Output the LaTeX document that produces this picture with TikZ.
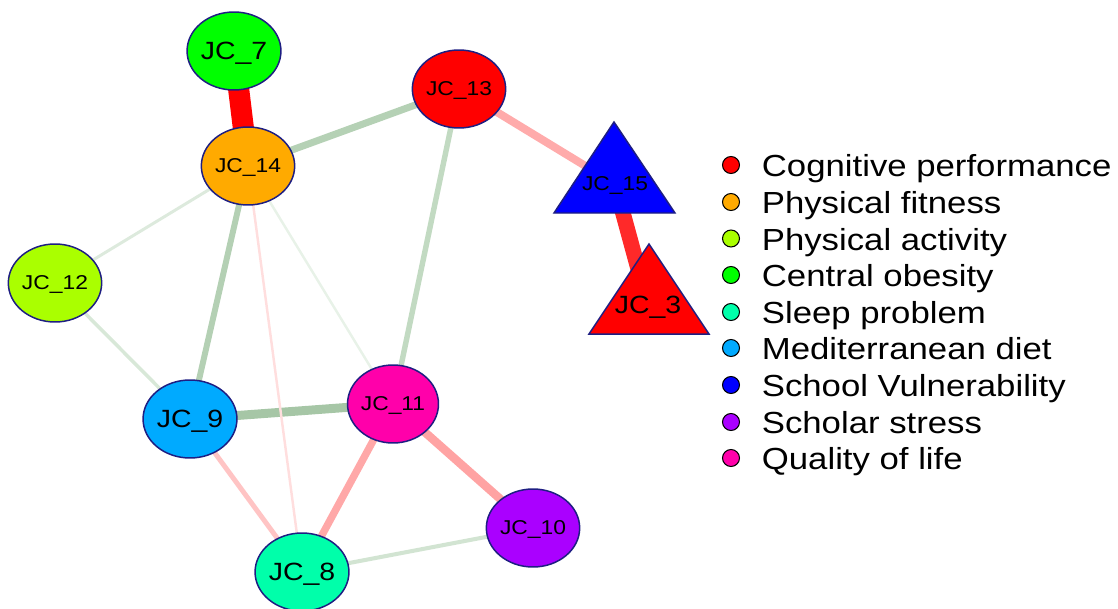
\documentclass[tikz,border=0pt]{standalone}
\usepackage{fontspec}
\newfontfamily\nodefont[FakeStretch=1.14]{Liberation Sans}
\usetikzlibrary{shapes.geometric}
\pgfdeclarelayer{edges}
\pgfsetlayers{edges,main}

% group colours
\definecolor{cogn}{HTML}{FF0000}
\definecolor{fit}{HTML}{FFAA00}
\definecolor{pact}{HTML}{AAFF00}
\definecolor{obes}{HTML}{00FF00}
\definecolor{sleep}{HTML}{00FFAA}
\definecolor{medi}{HTML}{00AAFF}
\definecolor{vuln}{HTML}{0000FF}
\definecolor{stress}{HTML}{AA00FF}
\definecolor{qol}{HTML}{FF00AA}
\definecolor{rim}{RGB}{30,30,130}

\tikzset{
  jc/.style={ellipse, draw=rim, line width=0.85pt, minimum width=1.78cm,
    minimum height=1.56cm, inner sep=0pt, text depth=0pt,
    font=\nodefont\fontsize{11.4}{12}\selectfont},
  big/.style={font=\nodefont\fontsize{14.2}{15}\selectfont},
  tri/.style={draw=rim, line width=0.85pt, line join=miter},
  trilab/.style={inner sep=0pt, text depth=0pt},
  edge/.style n args={2}{draw={#1}, line width=#2},
  dot/.style={circle, draw=black, line width=0.6pt, minimum size=0.34cm, inner sep=0pt},
  leg/.style={anchor=base west, inner sep=0pt,
    font=\nodefont\fontsize{17.35}{19}\selectfont}
}

\begin{document}
\begin{tikzpicture}[x=0.02cm, y=-0.02cm]
\useasboundingbox (0,0) rectangle (1118,608);

% round nodes
\node[jc, big, fill=obes] (JC7)  at (234,51)  {JC\_7};
\node[jc, fill=cogn]      (JC13) at (459,89)  {JC\_13};
\node[jc, fill=fit]       (JC14) at (248,166) {JC\_14};
\node[jc, fill=pact]      (JC12) at (55,283)  {JC\_12};
\node[jc, big, fill=medi] (JC9)  at (190,419) {JC\_9};
\node[jc, fill=qol]       (JC11) at (393,404) {JC\_11};
\node[jc, fill=stress]    (JC10) at (533,528) {JC\_10};
\node[jc, big, fill=sleep] (JC8) at (302,572) {JC\_8};

% triangular nodes
\path[tri, fill=vuln] (614,122) -- (675,213) -- (554,213) -- cycle;
\node[trilab, font=\nodefont\fontsize{11.4}{12}\selectfont] (JC15) at (615,184) {JC\_15};
\path[tri, fill=cogn] (649,244) -- (709,334) -- (589,334) -- cycle;
\node[trilab, big] (JC3) at (648,305) {JC\_3};

% weighted edges
\begin{pgfonlayer}{edges}
\draw[edge={cogn}{12pt}]            (JC7.center)  -- (JC14.center);
\draw[edge={red!84!white}{8.8pt}]   (JC15.center) -- (JC3.center);
\draw[edge={red!33!white}{4.5pt}]   (JC13.center) -- (JC15.center);
\draw[edge={rgb,255:red,181;green,209;blue,181}{4pt}]   (JC14.center) -- (JC13.center);
\draw[edge={rgb,255:red,194;green,218;blue,194}{3.1pt}] (JC13.center) -- (JC11.center);
\draw[edge={rgb,255:red,180;green,208;blue,180}{3.4pt}] (JC14.center) -- (JC9.center);
\draw[edge={rgb,255:red,166;green,198;blue,166}{5.1pt}] (JC9.center)  -- (JC11.center);
\draw[edge={rgb,255:red,221;green,234;blue,221}{1.7pt}] (JC14.center) -- (JC12.center);
\draw[edge={rgb,255:red,216;green,232;blue,216}{2pt}]   (JC12.center) -- (JC9.center);
\draw[edge={rgb,255:red,232;green,242;blue,232}{1.4pt}] (JC14.center) -- (JC11.center);
\draw[edge={red!13!white}{1.4pt}]   (JC14.center) -- (JC8.center);
\draw[edge={red!23!white}{2.8pt}]   (JC9.center)  -- (JC8.center);
\draw[edge={red!34!white}{4.2pt}]   (JC11.center) -- (JC8.center);
\draw[edge={red!36!white}{4.8pt}]   (JC11.center) -- (JC10.center);
\draw[edge={rgb,255:red,210;green,228;blue,210}{2.3pt}] (JC8.center)  -- (JC10.center);
\end{pgfonlayer}

% legend
\node[dot, fill=cogn]   (d1) at (731,165) {};
\node[dot, fill=fit]    (d2) at (731,202) {};
\node[dot, fill=pact]   (d3) at (731,238.5) {};
\node[dot, fill=obes]   (d4) at (731,275) {};
\node[dot, fill=sleep]  (d5) at (731,312) {};
\node[dot, fill=medi]   (d6) at (731,348) {};
\node[dot, fill=vuln]   (d7) at (731,385) {};
\node[dot, fill=stress] (d8) at (731,422) {};
\node[dot, fill=qol]    (d9) at (731,458) {};
\node[leg] (l1) at (761.5,176.5) {Cognitive performance};
\node[leg] (l2) at (761.5,213.5) {Physical fitness};
\node[leg] (l3) at (761.5,250) {Physical activity};
\node[leg] (l4) at (761.5,286.5) {Central obesity};
\node[leg] (l5) at (761.5,323.5) {Sleep problem};
\node[leg] (l6) at (761.5,359.5) {Mediterranean diet};
\node[leg] (l7) at (761.5,396.5) {School Vulnerability};
\node[leg] (l8) at (761.5,433.5) {Scholar stress};
\node[leg] (l9) at (761.5,469.5) {Quality of life};
\end{tikzpicture}
\end{document}
